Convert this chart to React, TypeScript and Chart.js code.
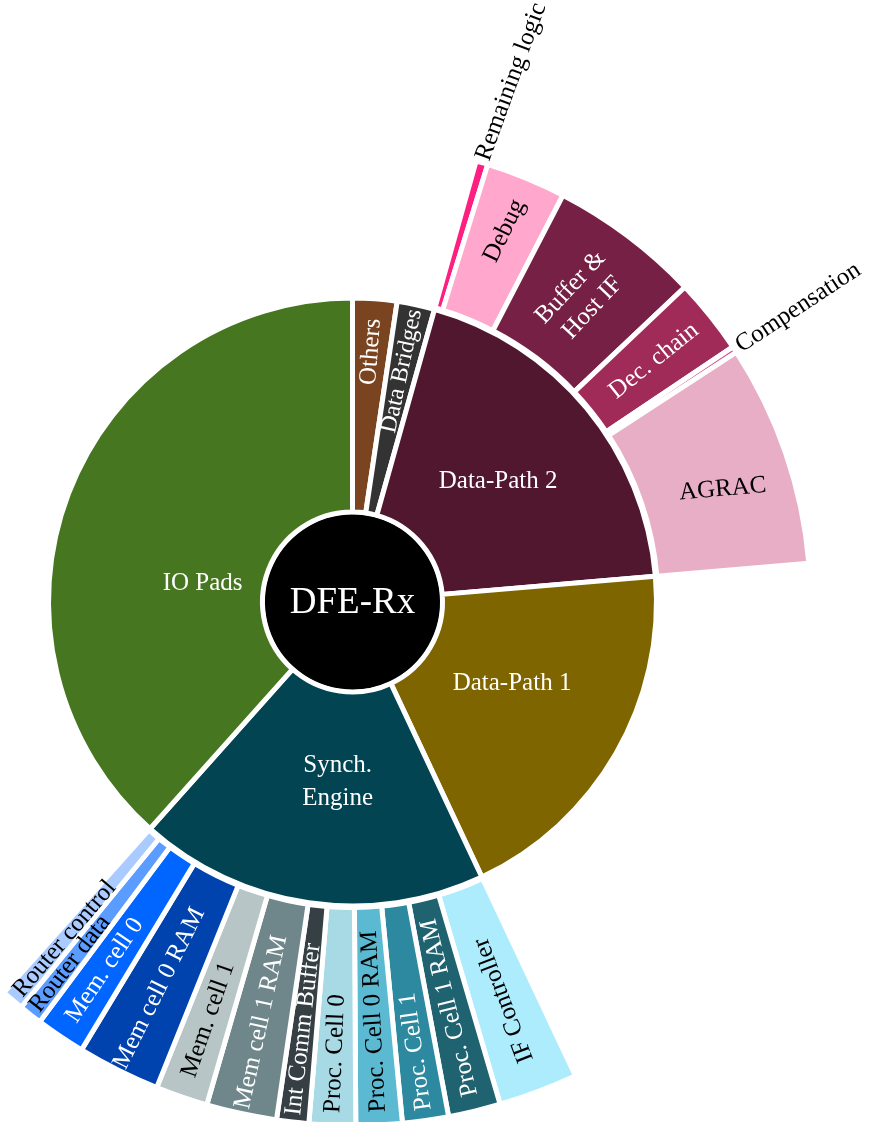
import React, { useEffect, useRef } from "react";
import { Chart, registerables } from "chart.js";

Chart.register(...registerables);

// ---------------- data ----------------
const ROOT_LABEL = "DFE-Rx";
const ROOT_COLOR = "#000000";

const L1_LABELS = ["Others", "Data Bridges", "Data-Path 2", "Data-Path 1", "Synch. Engine", "IO Pads"];
const L1_VALUES = [2.35, 2.0, 19.3, 19.35, 18.6, 38.4];
const L1_COLORS = ["#7A4421", "#333333", "#50172F", "#7F6500", "#034453", "#46761F"];
const L1_TEXT_COLORS = ["#FFFFFF", "#FFFFFF", "#FFFFFF", "#FFFFFF", "#FFFFFF", "#FFFFFF"];

const DP2_LABELS = ["Remaining logic", "Debug", "Buffer & Host IF", "Dec. chain", "Compensation", "AGRAC"];
const DP2_VALUES = [0.42, 2.83, 5.33, 2.67, 0.22, 7.83];
const DP2_COLORS = ["#FF1F80", "#FFA7CD", "#762045", "#A02A58", "#D3578E", "#E8AEC6"];
const DP2_TEXT_COLORS = ["#000000", "#000000", "#FFFFFF", "#FFFFFF", "#000000", "#000000"];

const SYNCH_LABELS = [
  "IF Controller", "Proc. Cell 1 RAM", "Proc. Cell 1", "Proc. Cell 0 RAM", "Proc. Cell 0",
  "Int Comm Buffer", "Mem cell 1 RAM", "Mem. cell 1", "Mem cell 0 RAM", "Mem. cell 0",
  "Router data", "Router control",
];
const SYNCH_VALUES = [2.45, 1.61, 1.42, 1.42, 1.43, 0.99, 2.17, 1.61, 2.56, 1.53, 0.72, 0.69];
const SYNCH_COLORS = [
  "#ADECFD", "#1F6270", "#2D899F", "#5BB9D1", "#A8DAE6",
  "#353F44", "#6F878B", "#B8C5C6", "#0042AE", "#0066FF",
  "#5A9CFF", "#A9CBFF",
];
const SYNCH_TEXT_COLORS = [
  "#000000", "#FFFFFF", "#FFFFFF", "#000000", "#000000",
  "#FFFFFF", "#FFFFFF", "#000000", "#FFFFFF", "#FFFFFF",
  "#000000", "#000000",
];

// ---------------- structure built from the arrays ----------------
type Group = { labels: string[]; values: number[]; colors: string[]; text: string[] };
const CHILD_GROUPS: Record<string, Group> = {
  "Data-Path 2": { labels: DP2_LABELS, values: DP2_VALUES, colors: DP2_COLORS, text: DP2_TEXT_COLORS },
  "Synch. Engine": { labels: SYNCH_LABELS, values: SYNCH_VALUES, colors: SYNCH_COLORS, text: SYNCH_TEXT_COLORS },
};

const OUTER_NAMES: (string | null)[] = [];
const OUTER_VALUES: number[] = [];
const OUTER_COLORS: string[] = [];
const OUTER_TEXT: string[] = [];
const OUTER_BORDER: number[] = [];
const OUTER_PARENT: (string | null)[] = [];

// ---------------- geometry / style ----------------
const BORDER = 5;
const GEOM = {
  rootR: 88,
  l1In: 90,
  l1Out: 304,
  l2In: 305.5,
  l2Out: { "Data-Path 2": 458, "Synch. Engine": 523.5 } as Record<string, number>,
};
const FONT_FAMILY = "'Liberation Serif', 'Times New Roman', Times, serif";

L1_LABELS.forEach((p, i) => {
  const g = CHILD_GROUPS[p];
  if (g) {
    g.labels.forEach((n, j) => {
      OUTER_NAMES.push(n);
      OUTER_VALUES.push(g.values[j]);
      OUTER_COLORS.push(g.colors[j]);
      OUTER_TEXT.push(g.text[j]);
      OUTER_BORDER.push(BORDER);
      OUTER_PARENT.push(p);
    });
  } else {
    OUTER_NAMES.push(null);
    OUTER_VALUES.push(L1_VALUES[i]);
    OUTER_COLORS.push("rgba(0,0,0,0)");
    OUTER_TEXT.push("#000000");
    OUTER_BORDER.push(0);
    OUTER_PARENT.push(null);
  }
});

type LabelSpec = {
  r: number;
  mode: "h" | "r" | "out";
  rot?: number;
  dAng?: number;
  lines?: string[];
  size?: number;
  lh?: number;
};

const LABEL_LAYOUT: Record<string, LabelSpec> = {
  "Others": { r: 251, mode: "r" },
  "Data Bridges": { r: 236, mode: "r", size: 24 },
  "Data-Path 2": { r: 189, mode: "h" },
  "Data-Path 1": { r: 179, mode: "h", dAng: -3 },
  "Synch. Engine": { r: 181, mode: "h", dAng: -3.6, lines: ["Synch.", "Engine"], lh: 33 },
  "IO Pads": { r: 151, mode: "h", dAng: -14 },
  "Remaining logic": { r: 461, mode: "out", rot: -70 },
  "Debug": { r: 401, mode: "r", rot: -64 },
  "Buffer & Host IF": { r: 381, mode: "r", rot: -47, lines: ["Buffer &", "Host IF"], size: 25, lh: 30 },
  "Dec. chain": { r: 386, mode: "r" },
  "Compensation": { r: 462, mode: "out" },
  "AGRAC": { r: 387, mode: "h", rot: -5, dAng: 2 },
  "IF Controller": { r: 426, mode: "r" },
  "Proc. Cell 1 RAM": { r: 417, mode: "r" },
  "Proc. Cell 1": { r: 454, mode: "r" },
  "Proc. Cell 0 RAM": { r: 420, mode: "r" },
  "Proc. Cell 0": { r: 452, mode: "r" },
  "Int Comm Buffer": { r: 430, mode: "r" },
  "Mem cell 1 RAM": { r: 430, mode: "r" },
  "Mem. cell 1": { r: 442, mode: "r" },
  "Mem cell 0 RAM": { r: 432, mode: "r" },
  "Mem. cell 0": { r: 444, mode: "r" },
  "Router data": { r: 459, mode: "r" },
  "Router control": { r: 443, mode: "r" },
};

function drawLabel(ctx: CanvasRenderingContext2D, arc: any, text: string, color: string, spec: LabelSpec) {
  const mid = (arc.startAngle + arc.endAngle) / 2;
  const ang = mid + ((spec.dAng || 0) * Math.PI) / 180;
  const x = arc.x + spec.r * Math.cos(ang);
  const y = arc.y + spec.r * Math.sin(ang);
  let rot = 0;
  if (spec.rot !== undefined) rot = (spec.rot * Math.PI) / 180;
  else if (spec.mode !== "h") rot = Math.sin(mid) > 0 ? mid - Math.PI : mid;
  ctx.save();
  ctx.translate(x, y);
  ctx.rotate(rot);
  ctx.font = `${spec.size || 25}px ${FONT_FAMILY}`;
  ctx.fillStyle = color;
  ctx.textAlign = spec.mode === "out" ? "left" : "center";
  ctx.textBaseline = "middle";
  const lines = spec.lines || [text];
  const lh = spec.lh || 30;
  lines.forEach((ln, k) => ctx.fillText(ln, 0, (k - (lines.length - 1) / 2) * lh));
  ctx.restore();
}

const ringPlugin = {
  id: "sunburstRings",
  afterDatasetsUpdate(chart: any) {
    const outer = chart.getDatasetMeta(0);
    outer.data.forEach((arc: any, i: number) => {
      const p = OUTER_PARENT[i];
      arc.innerRadius = GEOM.l2In;
      arc.outerRadius = p ? GEOM.l2Out[p] : GEOM.l2In;
    });
    const inner = chart.getDatasetMeta(1);
    inner.data.forEach((arc: any) => {
      arc.innerRadius = GEOM.l1In;
      arc.outerRadius = GEOM.l1Out;
    });
    const root = chart.getDatasetMeta(2);
    root.data.forEach((arc: any) => {
      arc.innerRadius = 0;
      arc.outerRadius = GEOM.rootR;
    });
  },
};

const labelPlugin = {
  id: "sunburstLabels",
  afterDatasetsDraw(chart: any) {
    const ctx: CanvasRenderingContext2D = chart.ctx;
    const inner = chart.getDatasetMeta(1);
    inner.data.forEach((arc: any, i: number) => {
      const spec = LABEL_LAYOUT[L1_LABELS[i]];
      if (spec) drawLabel(ctx, arc, L1_LABELS[i], L1_TEXT_COLORS[i], spec);
    });
    const outer = chart.getDatasetMeta(0);
    outer.data.forEach((arc: any, i: number) => {
      const n = OUTER_NAMES[i];
      if (!n) return;
      const spec = LABEL_LAYOUT[n];
      if (spec) drawLabel(ctx, arc, n, OUTER_TEXT[i], spec);
    });
    const root = chart.getDatasetMeta(2).data[0];
    if (root) {
      ctx.save();
      ctx.font = `37px ${FONT_FAMILY}`;
      ctx.fillStyle = "#FFFFFF";
      ctx.textAlign = "center";
      ctx.textBaseline = "middle";
      ctx.fillText(ROOT_LABEL, root.x, root.y + 1.5);
      ctx.restore();
    }
  },
};

export default function App() {
  const ref = useRef<HTMLCanvasElement>(null);
  useEffect(() => {
    if (!ref.current) return;
    const total = L1_VALUES.reduce((a, b) => a + b, 0);
    const chart = new Chart(ref.current, {
      type: "doughnut",
      data: {
        labels: OUTER_NAMES.map((n) => n || ""),
        datasets: [
          {
            data: OUTER_VALUES,
            backgroundColor: OUTER_COLORS,
            borderColor: "#FFFFFF",
            borderWidth: OUTER_BORDER,
          },
          {
            data: L1_VALUES,
            backgroundColor: L1_COLORS,
            borderColor: "#FFFFFF",
            borderWidth: BORDER,
          },
          {
            data: [total],
            backgroundColor: [ROOT_COLOR],
            borderWidth: 0,
          },
        ],
      } as any,
      options: {
        responsive: false,
        animation: false,
        devicePixelRatio: 1,
        events: [],
        layout: { padding: { left: 0, right: 169, top: 82, bottom: 0 } },
        plugins: {
          legend: { display: false },
          tooltip: { enabled: false },
        },
      } as any,
      plugins: [ringPlugin, labelPlugin],
    });
    return () => chart.destroy();
  }, []);

  return (
    <div style={{ position: "fixed", left: 0, top: 0, width: 874, height: 1122, background: "#FFFFFF" }}>
      <canvas ref={ref} width={874} height={1122} style={{ width: 874, height: 1122, display: "block" }} />
    </div>
  );
}
